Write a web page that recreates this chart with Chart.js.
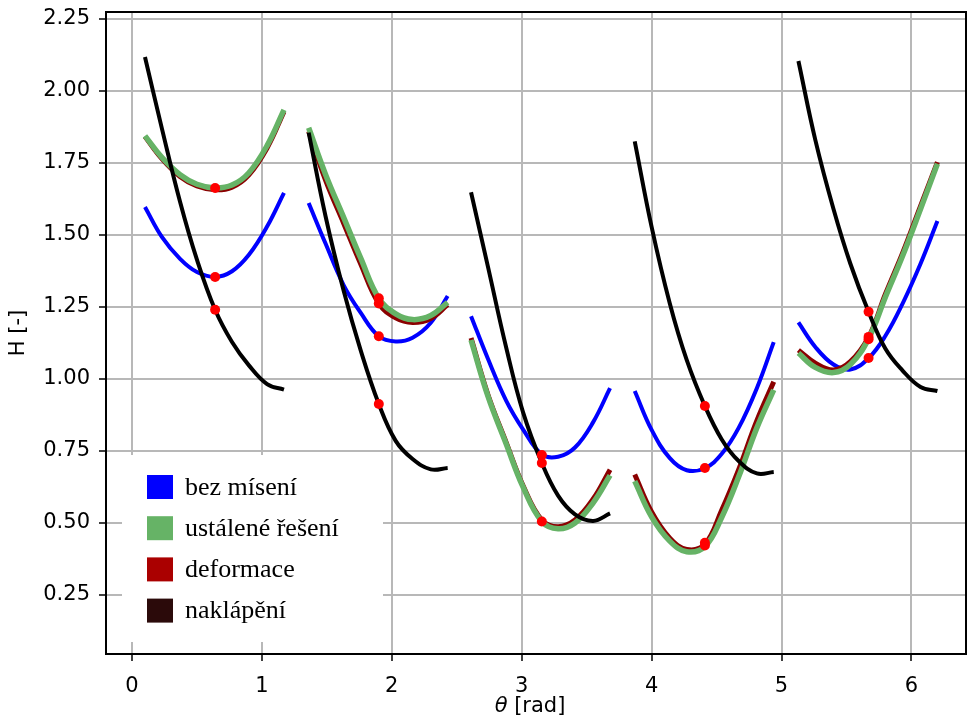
<!DOCTYPE html>
<html>
<head>
<meta charset="utf-8">
<script src="https://cdn.jsdelivr.net/npm/chart.js@4.4.0/dist/chart.umd.min.js"></script>
<style>
  html, body { margin: 0; padding: 0; background: #fff; }
  #chart { display: block; }
</style>
</head>
<body>
<canvas id="chart" width="971" height="720"></canvas>
<script>
// theta positions of the five curve groups
const theta = [
  [0.10, 0.23, 0.37, 0.50, 0.64, 0.77, 0.90, 1.04, 1.17],
  [1.36, 1.49, 1.63, 1.76, 1.90, 2.03, 2.16, 2.30, 2.43],
  [2.61, 2.74, 2.88, 3.01, 3.155, 3.28, 3.41, 3.55, 3.68],
  [3.87, 4.00, 4.14, 4.27, 4.41, 4.54, 4.67, 4.81, 4.94],
  [5.13, 5.26, 5.40, 5.53, 5.67, 5.80, 5.93, 6.07, 6.20],
];

const bezMiseni = [
  [1.597, 1.493, 1.417, 1.371, 1.354, 1.374, 1.431, 1.529, 1.646],
  [1.611, 1.47, 1.325, 1.23, 1.148, 1.13, 1.143, 1.195, 1.288],
  [1.218, 1.07, 0.925, 0.825, 0.738, 0.73, 0.762, 0.85, 0.968],
  [0.958, 0.823, 0.725, 0.683, 0.69, 0.74, 0.83, 0.968, 1.128],
  [1.196, 1.111, 1.05, 1.033, 1.072, 1.15, 1.26, 1.40, 1.548],
];

const ustalene = [
  [1.844, 1.769, 1.709, 1.676, 1.663, 1.673, 1.716, 1.81, 1.934],
  [1.872, 1.71, 1.56, 1.42, 1.28, 1.226, 1.206, 1.22, 1.266],
  [1.135, 0.94, 0.775, 0.625, 0.505, 0.48, 0.50, 0.57, 0.665],
  [0.645, 0.521, 0.437, 0.40, 0.418, 0.52, 0.66, 0.83, 0.962],
  [1.09, 1.04, 1.022, 1.05, 1.14, 1.285, 1.425, 1.59, 1.747],
];

const deformace = [
  [1.842, 1.765, 1.703, 1.67, 1.657, 1.666, 1.709, 1.802, 1.928],
  [1.86, 1.69, 1.54, 1.40, 1.262, 1.212, 1.196, 1.21, 1.258],
  [1.142, 0.945, 0.78, 0.63, 0.51, 0.487, 0.51, 0.583, 0.685],
  [0.668, 0.538, 0.447, 0.408, 0.426, 0.545, 0.685, 0.855, 0.99],
  [1.10, 1.055, 1.031, 1.06, 1.145, 1.295, 1.435, 1.60, 1.753],
];

const naklapeni = [
  [2.118, 1.87, 1.615, 1.414, 1.24, 1.128, 1.047, 0.982, 0.963],
  [1.855, 1.565, 1.305, 1.10, 0.913, 0.785, 0.722, 0.686, 0.691],
  [1.648, 1.39, 1.11, 0.885, 0.708, 0.595, 0.53, 0.507, 0.533],
  [1.825, 1.528, 1.262, 1.066, 0.906, 0.79, 0.715, 0.672, 0.677],
  [2.104, 1.83, 1.59, 1.40, 1.233, 1.105, 1.03, 0.972, 0.958],
];

// red markers at the operating point of each group
const dotTheta = [0.64, 1.90, 3.155, 4.41, 5.67];
const dotH = [
  [1.663, 1.354, 1.24],
  [1.28, 1.262, 1.148, 0.913],
  [0.736, 0.708, 0.505],
  [0.906, 0.691, 0.431, 0.422],
  [1.233, 1.146, 1.138, 1.073],
];

const xTicks = [0, 1, 2, 3, 4, 5, 6];
const yTicks = [0.25, 0.5, 0.75, 1.0, 1.25, 1.5, 1.75, 2.0, 2.25];

const legendItems = [
  { label: "bez mísení", color: "#0000ff" },
  { label: "ustálené řešení", color: "#66b366" },
  { label: "deformace", color: "#aa0000" },
  { label: "naklápění", color: "#2b0a0a" },
];

function toPoints(series) {
  const pts = [];
  series.forEach((ys, g) => {
    if (g > 0) pts.push({ x: theta[g][0] - 0.05, y: null });
    ys.forEach((y, i) => pts.push({ x: theta[g][i], y }));
  });
  return pts;
}

const dotPoints = dotH.flatMap((ys, g) => ys.map((y) => ({ x: dotTheta[g], y })));

function curve(label, series, color, width, order) {
  return {
    label,
    data: toPoints(series),
    borderColor: color,
    backgroundColor: color,
    borderWidth: width,
    pointRadius: 0,
    tension: 0.4,
    spanGaps: false,
    order,
  };
}

const decorPlugin = {
  id: "decor",
  afterDraw(chart) {
    const { ctx, chartArea: a } = chart;
    ctx.save();
    // box round the plot
    ctx.strokeStyle = "#000";
    ctx.lineWidth = 2;
    ctx.strokeRect(a.left, a.top, a.right - a.left, a.bottom - a.top);

    // legend
    const lx = a.left + 16;
    const ly = a.bottom - 199;
    ctx.fillStyle = "#fff";
    ctx.fillRect(lx, ly, 261, 187);
    ctx.font = "26px 'Liberation Serif', 'Times New Roman', serif";
    ctx.textBaseline = "middle";
    legendItems.forEach((it, i) => {
      const cy = ly + 32 + i * 41.2;
      ctx.fillStyle = it.color;
      ctx.fillRect(lx + 25, cy - 12, 26, 24);
      ctx.fillStyle = "#000";
      ctx.fillText(it.label, lx + 63, cy + 1);
    });

    // axis titles
    ctx.fillStyle = "#000";
    ctx.textBaseline = "middle";
    ctx.save();
    ctx.translate(19, (a.top + a.bottom) / 2);
    ctx.rotate(-Math.PI / 2);
    ctx.textAlign = "center";
    ctx.font = "21px 'DejaVu Sans'";
    ctx.fillText("H [-]", 0, 0);
    ctx.restore();

    const th = "θ";
    const rest = " [rad]";
    ctx.font = "italic 21px 'DejaVu Sans'";
    const w1 = ctx.measureText(th).width;
    ctx.font = "21px 'DejaVu Sans'";
    const w2 = ctx.measureText(rest).width;
    const x0 = (a.left + a.right) / 2 - (w1 + w2) / 2 - 6;
    ctx.textAlign = "left";
    ctx.font = "italic 21px 'DejaVu Sans'";
    ctx.fillText(th, x0, 707);
    ctx.font = "21px 'DejaVu Sans'";
    ctx.fillText(rest, x0 + w1, 707);
    ctx.restore();
  },
};

const tickFont = { family: "'DejaVu Sans'", size: 21 };

new Chart(document.getElementById("chart"), {
  type: "line",
  data: {
    datasets: [
      {
        label: "body",
        data: dotPoints,
        showLine: false,
        pointRadius: 5,
        pointBorderWidth: 0,
        pointBackgroundColor: "#ff0000",
        backgroundColor: "#ff0000",
        order: 0,
      },
      curve("naklápění", naklapeni, "#000000", 4, 1),
      curve("ustálené řešení", ustalene, "#66b366", 5.5, 2),
      curve("deformace", deformace, "#8b0000", 5, 3),
      curve("bez mísení", bezMiseni, "#0000ff", 4, 4),
    ],
  },
  options: {
    responsive: false,
    animation: false,
    layout: { padding: { top: 12, right: 2, left: 0, bottom: 0 } },
    plugins: {
      legend: { display: false },
      tooltip: { enabled: false },
    },
    scales: {
      x: {
        type: "linear",
        min: -0.2,
        max: 6.42,
        afterBuildTicks: (s) => { s.ticks = xTicks.map((v) => ({ value: v })); },
        afterFit: (s) => { s.height = 66; s.paddingLeft = 0; s.paddingRight = 0; },
        ticks: { font: tickFont, color: "#000", padding: 13, callback: (v) => String(v) },
        grid: { color: "#b8b8b8", lineWidth: 2, tickLength: 7, tickColor: "#000", tickWidth: 1.5 },
        border: { color: "#000", width: 2 },
      },
      y: {
        min: 0.045,
        max: 2.274,
        afterBuildTicks: (s) => { s.ticks = yTicks.map((v) => ({ value: v })); },
        afterFit: (s) => { s.width = 106; s.paddingTop = 0; s.paddingBottom = 0; },
        ticks: { font: tickFont, color: "#000", padding: 9, callback: (v) => Number(v).toFixed(2) },
        grid: { color: "#b8b8b8", lineWidth: 2, tickLength: 7, tickColor: "#000", tickWidth: 1.5 },
        border: { color: "#000", width: 2 },
      },
    },
  },
  plugins: [decorPlugin],
});
</script>
</body>
</html>
